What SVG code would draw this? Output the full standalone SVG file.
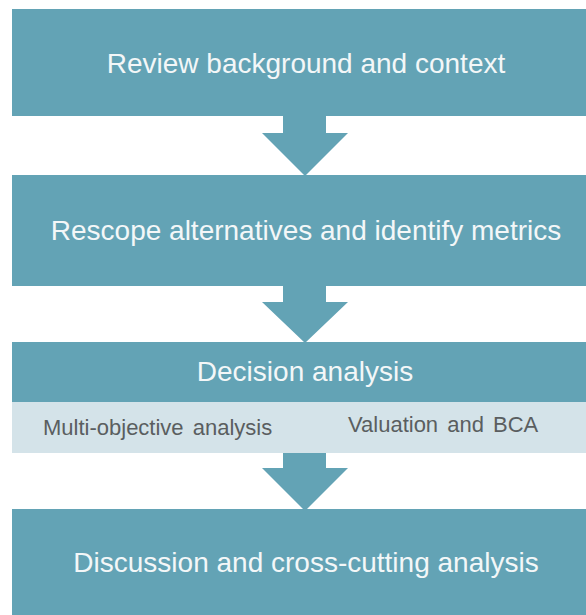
<svg xmlns="http://www.w3.org/2000/svg" width="586" height="615" viewBox="0 0 586 615">
<style>
.box{fill:#63A3B5;}
.band{fill:#D4E3E9;}
.title{font-family:"Liberation Sans",Arial,sans-serif;font-size:28px;fill:#F3F7F8;text-anchor:middle;}
.sub{font-family:"Liberation Sans",Arial,sans-serif;font-size:22px;fill:#5A5E60;word-spacing:3px;}
.arrow{fill:#63A3B5;}
</style>
<rect width="586" height="615" fill="#FFFFFF"/>
<g id="node-review">
<rect class="box" x="12" y="9" width="590" height="107"/>
<text class="title" x="306" y="73">Review background and context</text>
</g>
<g id="node-rescope">
<rect class="box" x="12" y="175" width="590" height="111"/>
<text class="title" x="306" y="240">Rescope alternatives and identify metrics</text>
</g>
<g id="node-decision">
<rect class="box" x="12" y="342" width="590" height="60"/>
<rect class="band" x="12" y="402" width="590" height="51"/>
<text class="title" x="305" y="381">Decision analysis</text>
<text class="sub" x="43" y="435">Multi-objective analysis</text>
<text class="sub" x="348" y="432">Valuation and BCA</text>
</g>
<g id="node-discussion">
<rect class="box" x="12" y="509" width="590" height="110"/>
<text class="title" x="306" y="572">Discussion and cross-cutting analysis</text>
</g>
<g id="connectors">
<polygon class="arrow" points="283,116 326,116 326,133 348,133 305,176 262,133 283,133"/>
<polygon class="arrow" points="283,286 326,286 326,302 348,302 305,343 262,302 283,302"/>
<polygon class="arrow" points="283,453 326,453 326,468 348,468 305,511 262,468 283,468"/>
</g>
</svg>
